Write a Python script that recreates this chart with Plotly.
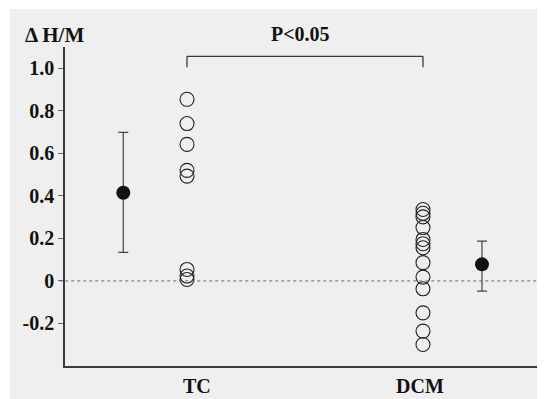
import plotly.graph_objects as go

# ---- data ----
groups = ["TC", "DCM"]
group_pos = [1, 2]
tc_values = [0.854, 0.74, 0.642, 0.52, 0.493, 0.054, 0.023, 0.007]
dcm_values = [0.336, 0.318, 0.301, 0.251, 0.195, 0.175, 0.156, 0.086,
              0.018, -0.037, -0.150, -0.236, -0.299]
mean_values = [0.415, 0.078]
mean_upper = [0.699, 0.187]
mean_lower = [0.134, -0.048]
mean_offsets = [-0.27, 0.25]
y_ticks = [-0.2, 0, 0.2, 0.4, 0.6, 0.8, 1.0]
y_ticktext = ["-0.2", "0", "0.2", "0.4", "0.6", "0.8", "1.0"]
p_text = "P<0.05"
y_label = "\u0394 H/M"

FONT = "Liberation Serif, Times New Roman, serif"
AX = "#3a3a3a"
TXT = "#111"

fig = go.Figure()

fig.add_trace(go.Scatter(
    x=[group_pos[0]] * len(tc_values), y=tc_values, mode="markers",
    marker=dict(symbol="circle-open", size=14, color="#222", line=dict(width=1.1)),
    showlegend=False, hoverinfo="y"))
fig.add_trace(go.Scatter(
    x=[group_pos[1]] * len(dcm_values), y=dcm_values, mode="markers",
    marker=dict(symbol="circle-open", size=14, color="#222", line=dict(width=1.1)),
    showlegend=False, hoverinfo="y"))

mx = [p + o for p, o in zip(group_pos, mean_offsets)]
fig.add_trace(go.Scatter(
    x=mx, y=mean_values, mode="markers",
    marker=dict(symbol="circle", size=14, color="#111"),
    error_y=dict(type="data", symmetric=False,
                 array=[u - m for u, m in zip(mean_upper, mean_values)],
                 arrayminus=[m - l for m, l in zip(mean_values, mean_lower)],
                 color="#444", thickness=1.2, width=5),
    showlegend=False))

shapes = [
    # scanned paper background with white strip at top/left
    dict(type="rect", xref="paper", yref="paper", x0=-0.115, x1=1.05, y0=-0.12, y1=1.119,
         fillcolor="#efefef", line=dict(width=0), layer="below"),
    # zero line
    dict(type="line", xref="paper", yref="y", x0=-0.012, x1=1, y0=0, y1=0,
         line=dict(color="#666", width=1, dash="dot")),
    # bracket
    dict(type="line", xref="x", yref="y", x0=group_pos[0], x1=group_pos[1], y0=1.056, y1=1.056,
         line=dict(color=AX, width=1.3)),
    dict(type="line", xref="x", yref="y", x0=group_pos[0], x1=group_pos[0], y0=1.056, y1=1.005,
         line=dict(color=AX, width=1.3)),
    dict(type="line", xref="x", yref="y", x0=group_pos[1], x1=group_pos[1], y0=1.056, y1=1.005,
         line=dict(color=AX, width=1.3)),
]

annotations = [
    dict(text="<b>" + p_text + "</b>", x=(group_pos[0] + group_pos[1]) / 2, y=1.041,
         xref="x", yref="paper", yanchor="middle", xshift=-5, showarrow=False,
         font=dict(family=FONT, size=20, color=TXT)),
    dict(text="<b>" + y_label + "</b>", x=-0.021, y=1.0376, xref="paper", yref="paper",
         xanchor="center", yanchor="middle", showarrow=False,
         font=dict(family=FONT, size=21, color=TXT)),
    dict(text="<b>" + groups[0] + "</b>", x=group_pos[0], y=-0.063, xref="x", yref="paper",
         yanchor="middle", xshift=10, showarrow=False,
         font=dict(family=FONT, size=20, color=TXT)),
    dict(text="<b>" + groups[1] + "</b>", x=group_pos[1], y=-0.063, xref="x", yref="paper",
         yanchor="middle", xshift=-3, showarrow=False,
         font=dict(family=FONT, size=20, color=TXT)),
]

# page body has an 8px margin, so the figure is offset by 8px
fig.update_layout(
    width=537, height=391,
    margin=dict(l=57, r=0, t=39, b=33),
    paper_bgcolor="white", plot_bgcolor="rgba(0,0,0,0)",
    shapes=shapes, annotations=annotations,
    xaxis=dict(range=[0.483, 2.517], showgrid=False, zeroline=False,
               showticklabels=False, ticks="", showline=True, linecolor=AX, linewidth=1.5),
    yaxis=dict(range=[-0.4, 1.1], showgrid=False, zeroline=False,
               tickvals=y_ticks, ticktext=["<b>" + t + "</b>" for t in y_ticktext],
               ticks="outside", ticklen=5, tickcolor="#666", tickwidth=1,
               showline=True, linecolor=AX, linewidth=1.5, automargin=False,
               tickfont=dict(family=FONT, size=20, color=TXT)),
)

fig.write_html("out.html")
